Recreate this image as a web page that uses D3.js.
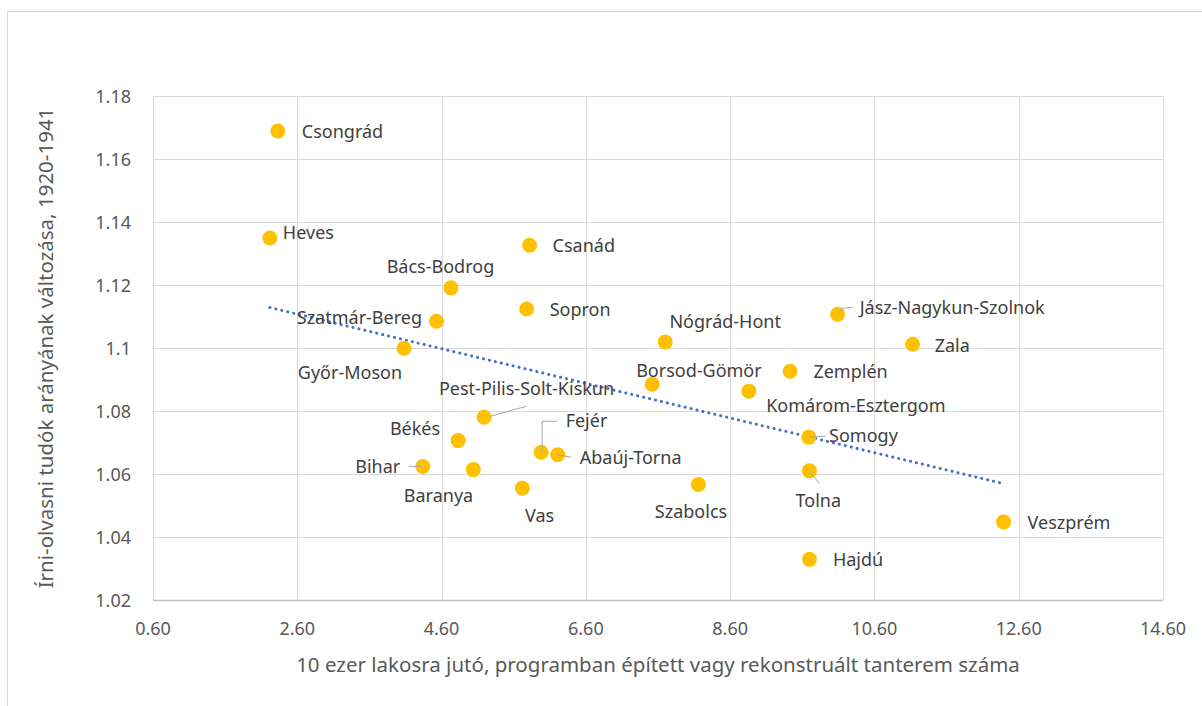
<!DOCTYPE html>
<html>
<head>
<meta charset="utf-8">
<script src="https://cdn.jsdelivr.net/npm/d3@7"></script>
<style>
  html, body { margin: 0; padding: 0; background: #fff; }
  svg { display: block; font-family: "Noto Sans", sans-serif; }
  .grid line { stroke: #d9d9d9; stroke-width: 1; }
  .tick-label { fill: #595959; font-size: 18px; }
  .axis-title { fill: #595959; font-size: 20.5px; }
  .point-label { fill: #404040; font-size: 18px; }
  .leader { stroke: #a6a6a6; stroke-width: 1; fill: none; }
</style>
</head>
<body>
<svg id="chart" width="1202" height="706"></svg>
<script>
// Írni-olvasni tudók arányának változása vs. tantermek száma (megyék)

// --- Data ---
const counties = [
  "Csongrád", "Heves", "Csanád", "Bács-Bodrog", "Sopron", "Szatmár-Bereg",
  "Győr-Moson", "Nógrád-Hont", "Jász-Nagykun-Szolnok", "Zala", "Zemplén",
  "Borsod-Gömör", "Komárom-Esztergom", "Somogy", "Tolna", "Szabolcs",
  "Veszprém", "Hajdú", "Pest-Pilis-Solt-Kiskun", "Békés", "Fejér",
  "Abaúj-Torna", "Bihar", "Baranya", "Vas"
];
const classrooms = [
  2.33, 2.22, 5.82, 4.73, 5.78, 4.53,
  4.08, 7.70, 10.09, 11.13, 9.43,
  7.52, 8.86, 9.69, 9.70, 8.16,
  12.39, 9.70, 5.19, 4.83, 5.98,
  6.21, 4.34, 5.04, 5.72
];
const literacyChange = [
  1.1689, 1.1349, 1.1326, 1.1191, 1.1124, 1.1085,
  1.0999, 1.1019, 1.1107, 1.1012, 1.0926,
  1.0885, 1.0863, 1.0717, 1.0610, 1.0567,
  1.0448, 1.0329, 1.0780, 1.0706, 1.0669,
  1.0661, 1.0624, 1.0614, 1.0555
];
const xTicks = [0.6, 2.6, 4.6, 6.6, 8.6, 10.6, 12.6, 14.6];
const yTicks = [1.02, 1.04, 1.06, 1.08, 1.1, 1.12, 1.14, 1.16, 1.18];
const xTitle = "10 ezer lakosra jutó, programban épített vagy rekonstruált tanterem száma";
const yTitle = "Írni-olvasni tudók arányának változása, 1920-1941";

// --- Label placement (anchor, dx, dy from the point; optional leader line) ---
const labelPos = {
  "Csongrád": ["start", 24, 7],
  "Heves": ["start", 13, 1],
  "Csanád": ["start", 23, 7],
  "Bács-Bodrog": ["middle", -10.5, -14.5],
  "Sopron": ["start", 23, 7],
  "Szatmár-Bereg": ["end", -14.5, 2.7],
  "Győr-Moson": ["end", -2, 31],
  "Nógrád-Hont": ["middle", 60, -13.7],
  "Jász-Nagykun-Szolnok": ["start", 22, 0, [[0, 0], [5, -6], [15, -7]]],
  "Zala": ["start", 22, 7.4],
  "Zemplén": ["start", 23.4, 7],
  "Borsod-Gömör": ["middle", 46.7, -7.6],
  "Komárom-Esztergom": ["middle", 107, 21.3],
  "Somogy": ["start", 20.3, 4.7, [[0, 0], [17, -1]]],
  "Tolna": ["middle", 8.8, 36, [[0, 1], [10, 12.6]]],
  "Szabolcs": ["middle", -7.4, 33.4],
  "Veszprém": ["start", 24, 7.3],
  "Hajdú": ["start", 23.4, 6.7],
  "Pest-Pilis-Solt-Kiskun": ["middle", 42.4, -22.3, [[6, -1], [42, -11]]],
  "Békés": ["end", -18, -5.7],
  "Fejér": ["start", 24.5, -25, [[1, 0], [1, -31], [16, -31]]],
  "Abaúj-Torna": ["start", 22, 9.3, [[0, 0], [14, 2.5]]],
  "Bihar": ["end", -22.6, 7, [[-14, 0], [-1, 0]]],
  "Baranya": ["middle", -34.8, 32.6],
  "Vas": ["middle", 17.2, 33.4]
};

// --- Setup ---
const svg = d3.select("#chart");
const plot = { left: 153, right: 1163, top: 96, bottom: 600 };

const x = d3.scaleLinear().domain([0.6, 14.6]).range([plot.left, plot.right]);
const y = d3.scaleLinear().domain([1.02, 1.18]).range([plot.bottom, plot.top]);

// outer chart frame (clipped by the window on the right and bottom)
svg.append("rect")
  .attr("x", 7.5).attr("y", 11.5)
  .attr("width", 1300).attr("height", 800)
  .attr("fill", "#fff").attr("stroke", "#d9d9d9");

// grid
const grid = svg.append("g").attr("class", "grid");
grid.selectAll(".gx").data(xTicks).enter().append("line")
  .attr("x1", d => Math.round(x(d)) + 0.5).attr("x2", d => Math.round(x(d)) + 0.5)
  .attr("y1", plot.top).attr("y2", plot.bottom);
grid.selectAll(".gy").data(yTicks).enter().append("line")
  .attr("x1", plot.left).attr("x2", plot.right)
  .attr("y1", d => Math.round(y(d)) + 0.5).attr("y2", d => Math.round(y(d)) + 0.5);

// bottom axis line
svg.append("line")
  .attr("x1", plot.left).attr("x2", plot.right)
  .attr("y1", Math.round(y(1.02)) + 0.5).attr("y2", Math.round(y(1.02)) + 0.5)
  .attr("stroke", "#bfbfbf").attr("stroke-width", 1.5);

// tick labels
svg.selectAll(".xt").data(xTicks).enter().append("text")
  .attr("class", "tick-label")
  .attr("x", d => x(d)).attr("y", plot.bottom + 35)
  .attr("text-anchor", "middle")
  .text(d3.format(".2f"));
svg.selectAll(".yt").data(yTicks).enter().append("text")
  .attr("class", "tick-label")
  .attr("x", plot.left - 22).attr("y", d => y(d) + 6.5)
  .attr("text-anchor", "end")
  .text(d => String(+d.toFixed(2)));

// axis titles
svg.append("text").attr("class", "axis-title")
  .attr("x", (plot.left + plot.right) / 2).attr("y", plot.bottom + 72)
  .attr("text-anchor", "middle")
  .text(xTitle);
svg.append("text").attr("class", "axis-title")
  .attr("transform", `translate(53,${(plot.top + plot.bottom) / 2}) rotate(-90)`)
  .attr("text-anchor", "middle")
  .text(yTitle);

// linear trendline (least squares)
const n = classrooms.length;
const mx = d3.mean(classrooms), my = d3.mean(literacyChange);
let sxy = 0, sxx = 0;
for (let i = 0; i < n; i++) {
  sxy += (classrooms[i] - mx) * (literacyChange[i] - my);
  sxx += (classrooms[i] - mx) ** 2;
}
const slope = sxy / sxx, icpt = my - slope * mx;
const [xmin, xmax] = d3.extent(classrooms);
svg.append("line")
  .attr("x1", x(xmin)).attr("y1", y(icpt + slope * xmin))
  .attr("x2", x(xmax)).attr("y2", y(icpt + slope * xmax))
  .attr("stroke", "#4472c4").attr("stroke-width", 3)
  .attr("stroke-linecap", "round").attr("stroke-dasharray", "0.1 6");

// points
const pts = counties.map((c, i) => ({ name: c, x: classrooms[i], y: literacyChange[i] }));
svg.append("g").selectAll("circle").data(pts).enter().append("circle")
  .attr("cx", d => x(d.x)).attr("cy", d => y(d.y)).attr("r", 7.5)
  .attr("fill", "#ffc000");

// leader lines
const line = d3.line();
svg.append("g").selectAll("path")
  .data(pts.filter(d => labelPos[d.name][3])).enter().append("path")
  .attr("class", "leader")
  .attr("d", d => line(labelPos[d.name][3].map(p => [x(d.x) + p[0], y(d.y) + p[1]])));

// labels
svg.append("g").selectAll("text").data(pts).enter().append("text")
  .attr("class", "point-label")
  .attr("text-anchor", d => labelPos[d.name][0])
  .attr("x", d => x(d.x) + labelPos[d.name][1])
  .attr("y", d => y(d.y) + labelPos[d.name][2])
  .text(d => d.name);
</script>
</body>
</html>
